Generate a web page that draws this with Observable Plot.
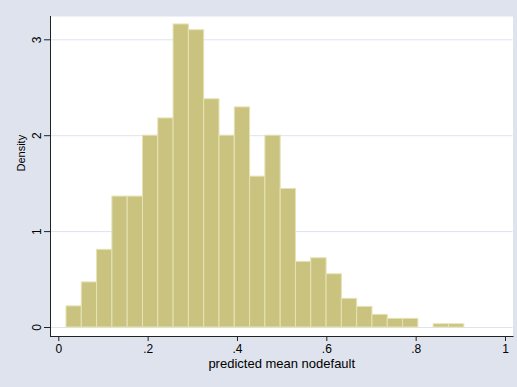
<!DOCTYPE html>
<html><head><meta charset="utf-8">
<script src="https://cdn.jsdelivr.net/npm/d3@7"></script>
<script src="https://cdn.jsdelivr.net/npm/@observablehq/plot@0.6"></script>
<style>html,body{margin:0;padding:0;background:#DEE3EE;}</style>
</head><body><div id="chart"></div>
<script>
// Histogram: 26 equal-width bins
const binStart = 0.0172;
const binWidth = 0.03425;
const densities = [0.22, 0.47, 0.81, 1.365, 1.365, 2.0, 2.18, 3.16, 3.10, 2.38, 2.0, 2.295, 1.573,
                   2.0, 1.445, 0.684, 0.722, 0.555, 0.299, 0.215, 0.132, 0.09, 0.09, 0, 0.034, 0.034];
const xTicks = [0, 0.2, 0.4, 0.6, 0.8, 1];
const xTickLabels = ["0", ".2", ".4", ".6", ".8", "1"];
const yTicks = [0, 1, 2, 3];
const yTickLabels = ["0", "1", "2", "3"];
const xTitle = "predicted mean nodefault";
const yTitle = "Density";

const bins = densities.map((d, i) => ({x1: binStart + i * binWidth, x2: binStart + (i + 1) * binWidth, y: d}))
  .filter(d => d.y > 0);

const bg = "#DEE3EE";
const chart = Plot.plot({
  width: 517,
  height: 387,
  marginLeft: 50,
  marginRight: 4.5,
  marginTop: 16,
  marginBottom: 51,
  style: {background: bg, fontFamily: "'Liberation Sans', Arial, sans-serif", color: "#000"},
  x: {domain: [0, 1], range: [58.3, 505]},
  y: {domain: [0, 3], range: [327, 39.3]},
  marks: [
    Plot.frame({fill: "white", stroke: null}),
    Plot.gridY(yTicks, {stroke: bg, strokeOpacity: 1, strokeWidth: 1}),
    Plot.rectY(bins, {x1: "x1", x2: "x2", y: "y", fill: "#C9C37F", stroke: "#E6E2B4", strokeWidth: 1}),
    Plot.frame({anchor: "left", stroke: "#222", strokeWidth: 1}),
    Plot.frame({anchor: "bottom", stroke: "#222", strokeWidth: 1}),
    Plot.axisX(xTicks, {tickSize: 5, tickPadding: 3, fontSize: 12, label: null, stroke: "#222",
      tickFormat: d => xTickLabels[xTicks.indexOf(d)]}),
    Plot.axisY(yTicks, {tickSize: 6, tickRotate: -90, tickPadding: 4, fontSize: 12, label: null, stroke: "#222",
      tickFormat: d => yTickLabels[yTicks.indexOf(d)]}),
    Plot.text([xTitle], {frameAnchor: "bottom", dy: 31, fontSize: 13, fill: "#000"}),
    Plot.text([yTitle], {frameAnchor: "left", dx: -29, dy: -5, rotate: -90, fontSize: 11, fill: "#000"})
  ]
});
document.getElementById("chart").appendChild(chart);
</script>
</body></html>
